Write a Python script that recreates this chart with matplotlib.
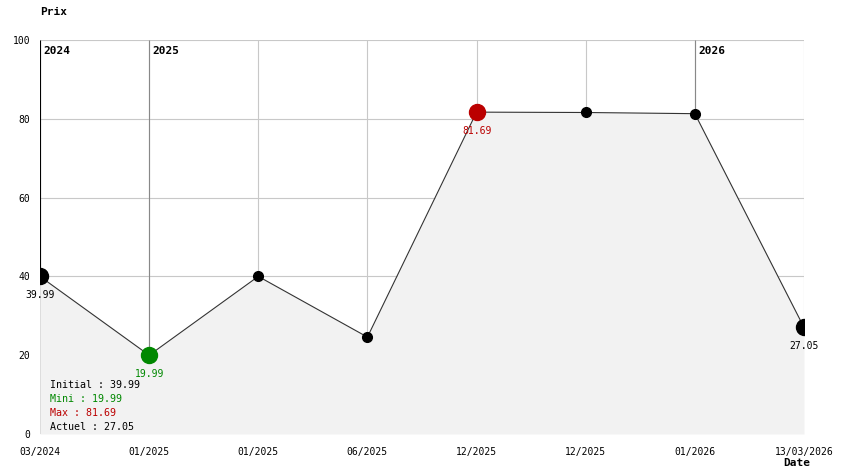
import matplotlib
matplotlib.use("Agg")
import matplotlib.pyplot as plt

dates = ["03/2024", "01/2025", "01/2025", "06/2025", "12/2025", "12/2025", "01/2026", "13/03/2026"]
prices = [39.99, 19.99, 40.0, 24.6, 81.69, 81.6, 81.3, 27.05]
year_idx = [0, 1, 6]
year_names = ["2024", "2025", "2026"]

plt.rcParams["font.family"] = ["DejaVu Sans Mono"]

fig = plt.figure(figsize=(8.44, 4.74), dpi=100)
ax = fig.add_axes([40 / 844, 40 / 474, 764 / 844, 394 / 474])
x = list(range(len(prices)))

ax.set_xlim(0, len(prices) - 1)
ax.set_ylim(0, 100)
for s in ax.spines.values():
    s.set_visible(False)
ax.set_yticks([0, 20, 40, 60, 80, 100])
ax.set_xticks(x)
ax.set_xticklabels(dates)
ax.tick_params(length=0, labelsize=7)
ax.tick_params(axis="x", pad=9)
ax.tick_params(axis="y", pad=7)
ax.grid(True, color="#c8c8c8", lw=0.8, zorder=0)
ax.set_axisbelow(True)

# annual separators, from the top down to the point
for i, name in zip(year_idx, year_names):
    ax.vlines(i, prices[i], 100, color="black" if i == 0 else "#888888", lw=0.8, zorder=1)
    ax.annotate(name, (i, 100), xytext=(2.5, -4), textcoords="offset points",
                ha="left", va="top", fontsize=8, fontweight="bold")

ax.fill_between(x, 0, prices, color="#f2f2f2", zorder=2, lw=0)
ax.plot(x, prices, color="#333333", lw=0.8, zorder=3)
ax.plot(x, prices, "o", color="black", ms=7, zorder=4)

imin = prices.index(min(prices))
imax = prices.index(max(prices))
last = len(prices) - 1
special = [(0, "black"), (imin, "#008800"), (imax, "#bb0000"), (last, "black")]
for i, c in special:
    ax.plot(i, prices[i], "o", color=c, ms=11.5, zorder=5)
    ax.annotate(f"{prices[i]:.2f}", (i, prices[i]), xytext=(0, -13.7), textcoords="offset points",
                ha="center", va="center", fontsize=7, color=c, zorder=6)

info = [("Initial : %.2f" % prices[0], "black"),
        ("Mini : %.2f" % prices[imin], "#008800"),
        ("Max : %.2f" % prices[imax], "#bb0000"),
        ("Actuel : %.2f" % prices[last], "black")]
for k, (t, c) in enumerate(info):
    fig.text(50 / 844, 1 - (385 + 14 * k) / 474, t, ha="left", va="center", fontsize=7.2, color=c)

fig.text(40 / 844, 1 - 12 / 474, "Prix", ha="left", va="center", fontsize=8, fontweight="bold")
fig.text(783 / 844, 1 - 463 / 474, "Date", ha="left", va="center", fontsize=8, fontweight="bold")

fig.savefig("out.png", dpi=100)
